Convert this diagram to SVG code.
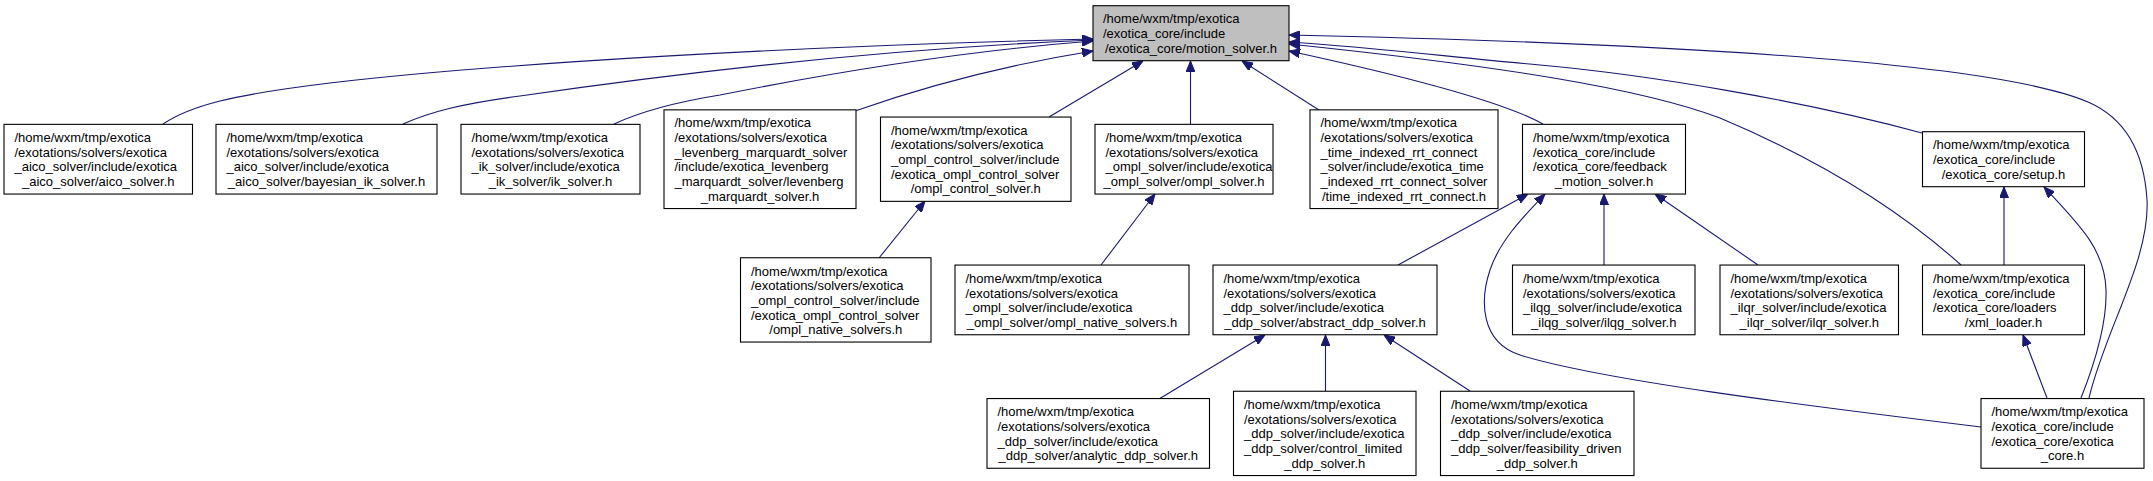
<svg xmlns="http://www.w3.org/2000/svg" width="2153" height="481" viewBox="0 0 2153 481">
<style>
  .box { fill: #ffffff; stroke: #000000; stroke-width: 1.1; }
  .main { fill: #bfbfbf; stroke: #000000; stroke-width: 1.1; }
  text { font-family: "Liberation Sans", Arial, Helvetica, sans-serif; font-size: 13px; fill: #000000; }
  .c { text-anchor: middle; }
  .edge { fill: none; stroke: #191970; stroke-width: 1.1; marker-end: url(#arr); }
</style>
<defs>
  <marker id="arr" viewBox="0 0 11 9" refX="11" refY="4.5" markerWidth="11" markerHeight="9" markerUnits="userSpaceOnUse" orient="auto">
    <path d="M0,0 L11,4.5 L0,9 Z" fill="#191970" stroke="#191970" stroke-width="1"/>
  </marker>
</defs>
<rect width="2153" height="481" fill="#ffffff"/>

<g id="connectors">
  <path class="edge" d="M163,124 C190,106 230,95 330,83 C500,63 800,46 1093,39"/>
  <path class="edge" d="M403,124 C430,112 460,104 520,96 C700,70 900,48 1093,40"/>
  <path class="edge" d="M614,124 C640,112 670,103 720,95 C820,75 950,52 1093,41"/>
  <path class="edge" d="M855,111 C920,88 1000,66 1093,51"/>
  <path class="edge" d="M1049,117 L1143,61"/>
  <path class="edge" d="M1190.5,124 L1190.5,61"/>
  <path class="edge" d="M1319,110 L1242,61"/>
  <path class="edge" d="M1543,124 C1500,100 1400,75 1289,51"/>
  <path class="edge" d="M1922,133 C1800,100 1650,75 1540,65 C1450,57 1380,48 1289,42"/>
  <path class="edge" d="M1961,265 C1900,210 1820,160 1720,118 C1640,88 1500,66 1289,44"/>
  <path class="edge" d="M2089,398 C2105,330 2150,260 2147,200 C2144,150 2125,118 2088,102 C2000,64 1700,44 1289,35"/>
  <path class="edge" d="M2081,398 C2096,360 2107,320 2106,290 C2105,250 2080,225 2044,187"/>
  <path class="edge" d="M2047,398 L2023,335"/>
  <path class="edge" d="M2004,265 L2004,187"/>
  <path class="edge" d="M879,258 L925,201"/>
  <path class="edge" d="M1101,265 L1155,194"/>
  <path class="edge" d="M1398,265 L1528,194"/>
  <path class="edge" d="M1981,427 C1800,405 1600,380 1520,355 C1480,342 1480,300 1490,270 C1500,240 1525,215 1545,194"/>
  <path class="edge" d="M1604,265 L1604,194"/>
  <path class="edge" d="M1758,265 L1655,194"/>
  <path class="edge" d="M1159,399 L1265,335"/>
  <path class="edge" d="M1325.5,391 L1325.5,335"/>
  <path class="edge" d="M1470,391 L1384,335"/>
</g>

<g id="motion_solver">
  <rect class="main" x="1093" y="5.7" width="196" height="55"/>
  <text x="1103" y="23.4">/home/wxm/tmp/exotica</text>
  <text x="1103" y="38.1">/exotica_core/include</text>
  <text class="c" x="1191" y="52.8">/exotica_core/motion_solver.h</text>
</g>

<g id="aico_solver">
  <rect class="box" x="4" y="124.35" width="188.5" height="69.7"/>
  <text x="14.5" y="142.1">/home/wxm/tmp/exotica</text>
  <text x="14.5" y="156.8">/exotations/solvers/exotica</text>
  <text x="14.5" y="171.4">_aico_solver/include/exotica</text>
  <text class="c" x="98.25" y="186.1">_aico_solver/aico_solver.h</text>
</g>

<g id="bayesian_ik_solver">
  <rect class="box" x="216" y="124.35" width="221" height="69.7"/>
  <text x="226.5" y="142.1">/home/wxm/tmp/exotica</text>
  <text x="226.5" y="156.8">/exotations/solvers/exotica</text>
  <text x="226.5" y="171.4">_aico_solver/include/exotica</text>
  <text class="c" x="326.5" y="186.1">_aico_solver/bayesian_ik_solver.h</text>
</g>

<g id="ik_solver">
  <rect class="box" x="461" y="124.35" width="179" height="69.7"/>
  <text x="471.5" y="142.1">/home/wxm/tmp/exotica</text>
  <text x="471.5" y="156.8">/exotations/solvers/exotica</text>
  <text x="471.5" y="171.4">_ik_solver/include/exotica</text>
  <text class="c" x="550.5" y="186.1">_ik_solver/ik_solver.h</text>
</g>

<g id="levenberg_marquardt_solver">
  <rect class="box" x="664" y="109.85" width="192" height="98.7"/>
  <text x="674.5" y="127.4">/home/wxm/tmp/exotica</text>
  <text x="674.5" y="142.1">/exotations/solvers/exotica</text>
  <text x="674.5" y="156.8">_levenberg_marquardt_solver</text>
  <text x="674.5" y="171.4">/include/exotica_levenberg</text>
  <text x="674.5" y="186.1">_marquardt_solver/levenberg</text>
  <text class="c" x="760" y="200.8">_marquardt_solver.h</text>
</g>

<g id="ompl_control_solver">
  <rect class="box" x="880.5" y="117.05" width="190.5" height="84.3"/>
  <text x="891" y="134.8">/home/wxm/tmp/exotica</text>
  <text x="891" y="149.4">/exotations/solvers/exotica</text>
  <text x="891" y="164.1">_ompl_control_solver/include</text>
  <text x="891" y="178.8">/exotica_ompl_control_solver</text>
  <text class="c" x="975.75" y="193.4">/ompl_control_solver.h</text>
</g>

<g id="ompl_solver">
  <rect class="box" x="1095" y="124.35" width="178" height="69.7"/>
  <text x="1105.5" y="142.1">/home/wxm/tmp/exotica</text>
  <text x="1105.5" y="156.8">/exotations/solvers/exotica</text>
  <text x="1105.5" y="171.4">_ompl_solver/include/exotica</text>
  <text class="c" x="1184" y="186.1">_ompl_solver/ompl_solver.h</text>
</g>

<g id="time_indexed_rrt_connect">
  <rect class="box" x="1310" y="109.85" width="188" height="98.7"/>
  <text x="1320.5" y="127.4">/home/wxm/tmp/exotica</text>
  <text x="1320.5" y="142.1">/exotations/solvers/exotica</text>
  <text x="1320.5" y="156.8">_time_indexed_rrt_connect</text>
  <text x="1320.5" y="171.4">_solver/include/exotica_time</text>
  <text x="1320.5" y="186.1">_indexed_rrt_connect_solver</text>
  <text class="c" x="1404" y="200.8">/time_indexed_rrt_connect.h</text>
</g>

<g id="feedback_motion_solver">
  <rect class="box" x="1522.5" y="124.35" width="163" height="69.7"/>
  <text x="1533" y="142.1">/home/wxm/tmp/exotica</text>
  <text x="1533" y="156.8">/exotica_core/include</text>
  <text x="1533" y="171.4">/exotica_core/feedback</text>
  <text class="c" x="1604" y="186.1">_motion_solver.h</text>
</g>

<g id="setup">
  <rect class="box" x="1922.5" y="131.7" width="162" height="55"/>
  <text x="1933" y="149.4">/home/wxm/tmp/exotica</text>
  <text x="1933" y="164.1">/exotica_core/include</text>
  <text class="c" x="2003.5" y="178.8">/exotica_core/setup.h</text>
</g>

<g id="ompl_control_native_solvers">
  <rect class="box" x="740.5" y="257.75" width="190.5" height="84.3"/>
  <text x="751" y="275.5">/home/wxm/tmp/exotica</text>
  <text x="751" y="290.1">/exotations/solvers/exotica</text>
  <text x="751" y="304.8">_ompl_control_solver/include</text>
  <text x="751" y="319.5">/exotica_ompl_control_solver</text>
  <text class="c" x="835.75" y="334.1">/ompl_native_solvers.h</text>
</g>

<g id="ompl_native_solvers">
  <rect class="box" x="955" y="265.05" width="234" height="69.7"/>
  <text x="965.5" y="282.8">/home/wxm/tmp/exotica</text>
  <text x="965.5" y="297.5">/exotations/solvers/exotica</text>
  <text x="965.5" y="312.1">_ompl_solver/include/exotica</text>
  <text class="c" x="1072" y="326.8">_ompl_solver/ompl_native_solvers.h</text>
</g>

<g id="abstract_ddp_solver">
  <rect class="box" x="1213" y="265.05" width="224" height="69.7"/>
  <text x="1223.5" y="282.8">/home/wxm/tmp/exotica</text>
  <text x="1223.5" y="297.5">/exotations/solvers/exotica</text>
  <text x="1223.5" y="312.1">_ddp_solver/include/exotica</text>
  <text class="c" x="1325" y="326.8">_ddp_solver/abstract_ddp_solver.h</text>
</g>

<g id="ilqg_solver">
  <rect class="box" x="1512.5" y="265.05" width="182.5" height="69.7"/>
  <text x="1523" y="282.8">/home/wxm/tmp/exotica</text>
  <text x="1523" y="297.5">/exotations/solvers/exotica</text>
  <text x="1523" y="312.1">_ilqg_solver/include/exotica</text>
  <text class="c" x="1603.75" y="326.8">_ilqg_solver/ilqg_solver.h</text>
</g>

<g id="ilqr_solver">
  <rect class="box" x="1720" y="265.05" width="178.5" height="69.7"/>
  <text x="1730.5" y="282.8">/home/wxm/tmp/exotica</text>
  <text x="1730.5" y="297.5">/exotations/solvers/exotica</text>
  <text x="1730.5" y="312.1">_ilqr_solver/include/exotica</text>
  <text class="c" x="1809.25" y="326.8">_ilqr_solver/ilqr_solver.h</text>
</g>

<g id="xml_loader">
  <rect class="box" x="1922.5" y="265.05" width="162" height="69.7"/>
  <text x="1933" y="282.8">/home/wxm/tmp/exotica</text>
  <text x="1933" y="297.5">/exotica_core/include</text>
  <text x="1933" y="312.1">/exotica_core/loaders</text>
  <text class="c" x="2003.5" y="326.8">/xml_loader.h</text>
</g>

<g id="analytic_ddp_solver">
  <rect class="box" x="987" y="398.55" width="222.5" height="69.7"/>
  <text x="997.5" y="416.3">/home/wxm/tmp/exotica</text>
  <text x="997.5" y="431">/exotations/solvers/exotica</text>
  <text x="997.5" y="445.6">_ddp_solver/include/exotica</text>
  <text class="c" x="1098.25" y="460.3">_ddp_solver/analytic_ddp_solver.h</text>
</g>

<g id="control_limited_ddp_solver">
  <rect class="box" x="1233.5" y="391.25" width="182.5" height="84.3"/>
  <text x="1244" y="409">/home/wxm/tmp/exotica</text>
  <text x="1244" y="423.6">/exotations/solvers/exotica</text>
  <text x="1244" y="438.3">_ddp_solver/include/exotica</text>
  <text x="1244" y="453">_ddp_solver/control_limited</text>
  <text class="c" x="1324.75" y="467.6">_ddp_solver.h</text>
</g>

<g id="feasibility_driven_ddp_solver">
  <rect class="box" x="1440.5" y="391.25" width="193.5" height="84.3"/>
  <text x="1451" y="409">/home/wxm/tmp/exotica</text>
  <text x="1451" y="423.6">/exotations/solvers/exotica</text>
  <text x="1451" y="438.3">_ddp_solver/include/exotica</text>
  <text x="1451" y="453">_ddp_solver/feasibility_driven</text>
  <text class="c" x="1537.25" y="467.6">_ddp_solver.h</text>
</g>

<g id="exotica_core">
  <rect class="box" x="1981" y="398.55" width="163" height="69.7"/>
  <text x="1991.5" y="416.3">/home/wxm/tmp/exotica</text>
  <text x="1991.5" y="431">/exotica_core/include</text>
  <text x="1991.5" y="445.6">/exotica_core/exotica</text>
  <text class="c" x="2062.5" y="460.3">_core.h</text>
</g>
</svg>
